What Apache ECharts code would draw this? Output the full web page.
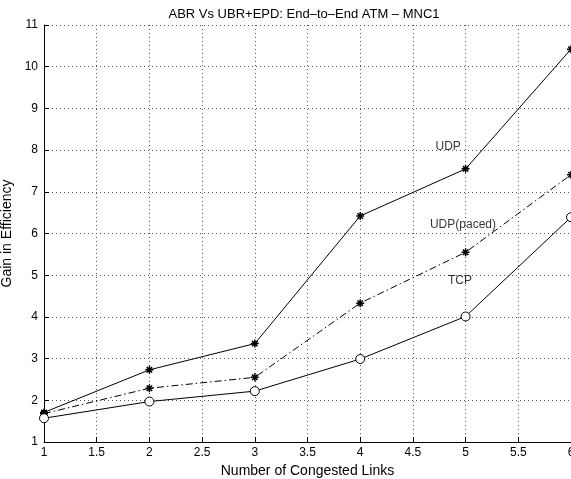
<!DOCTYPE html>
<html>
<head>
<meta charset="utf-8">
<script src="https://cdn.jsdelivr.net/npm/echarts@6/dist/echarts.min.js"></script>
<style>
html,body{margin:0;padding:0;background:#fff;}
#chart{width:571px;height:479px;}
</style>
</head>
<body>
<div id="chart"></div>
<script>
// Data
var links = [1, 2, 3, 4, 5, 6];
var udp = [1.71, 2.73, 3.36, 6.42, 7.55, 10.42];
var udpPaced = [1.68, 2.29, 2.55, 4.33, 5.55, 7.41];
var tcp = [1.57, 1.97, 2.22, 2.99, 4.01, 6.39];
var annotationNames = ['UDP', 'UDP(paced)', 'TCP'];
var annotationX = [4.835, 4.975, 4.947];
var annotationY = [8.08, 6.2, 4.88];

function pairs(xs, ys) { return xs.map(function (x, i) { return [x, ys[i]]; }); }

var FONT = '"Liberation Sans", Arial, Helvetica, sans-serif';
var star = 'path://M5,0L5,10M0,5L10,5M1.6,1.6L8.4,8.4M1.6,8.4L8.4,1.6';
var ring = 'path://M10,5A5,5,0,1,1,0,5A5,5,0,1,1,10,5Z';
var grid = { show: true, lineStyle: { color: '#555', width: 1, type: [1, 3] } };

var chart = echarts.init(document.getElementById('chart'), null, { renderer: 'canvas' });
chart.setOption({
  animation: false,
  backgroundColor: '#fff',
  title: {
    text: 'ABR Vs UBR+EPD: End\u2013to\u2013End ATM \u2013 MNC1',
    left: 299, top: 3, textAlign: 'center',
    textStyle: { fontFamily: FONT, fontSize: 13, fontWeight: 'normal', color: '#000' }
  },
  grid: { left: 44, top: 25, width: 527, height: 417, containLabel: false, outerBoundsMode: 'none' },
  xAxis: {
    type: 'value', min: 1, max: 6, interval: 0.5,
    name: 'Number of Congested Links', nameLocation: 'middle', nameGap: 19,
    nameTextStyle: { fontFamily: FONT, fontSize: 14, color: '#000' },
    axisLine: { show: true, onZero: false, lineStyle: { color: '#000', width: 1 } },
    axisTick: { show: true, inside: true, length: 5, lineStyle: { color: '#000' } },
    axisLabel: { fontFamily: FONT, fontSize: 12, color: '#000', margin: 5, showMaxLabel: true },
    splitLine: grid
  },
  yAxis: {
    type: 'value', min: 1, max: 11, interval: 1,
    name: 'Gain in Efficiency', nameLocation: 'middle', nameGap: 24,
    nameTextStyle: { fontFamily: FONT, fontSize: 14, color: '#000' },
    axisLine: { show: true, lineStyle: { color: '#000', width: 1 } },
    axisTick: { show: true, inside: true, length: 5, lineStyle: { color: '#000' } },
    axisLabel: { fontFamily: FONT, fontSize: 12, color: '#000', margin: 6 },
    splitLine: grid
  },
  series: [
    {
      name: 'UDP', type: 'line', data: pairs(links, udp),
      symbol: star, symbolSize: 8, showSymbol: true,
      lineStyle: { color: '#000', width: 1 },
      itemStyle: { color: '#000', borderColor: '#000', borderWidth: 1.5 }
    },
    {
      name: 'UDP(paced)', type: 'line', data: pairs(links, udpPaced),
      symbol: star, symbolSize: 8, showSymbol: true,
      lineStyle: { color: '#000', width: 1, type: [7, 3, 1.5, 3] },
      itemStyle: { color: '#000', borderColor: '#000', borderWidth: 1.5 }
    },
    {
      name: 'TCP', type: 'line', data: pairs(links, tcp),
      symbol: ring, symbolSize: 9, showSymbol: true,
      lineStyle: { color: '#000', width: 1 },
      itemStyle: { color: '#fff', borderColor: '#000', borderWidth: 1 }
    },
    {
      name: 'labels', type: 'scatter', symbolSize: 0, silent: true,
      data: annotationNames.map(function (n, i) { return { name: n, value: [annotationX[i], annotationY[i]] }; }),
      label: {
        show: true, position: 'inside', formatter: '{b}',
        fontFamily: FONT, fontSize: 12, color: '#000'
      }
    }
  ]
});
</script>
</body>
</html>
